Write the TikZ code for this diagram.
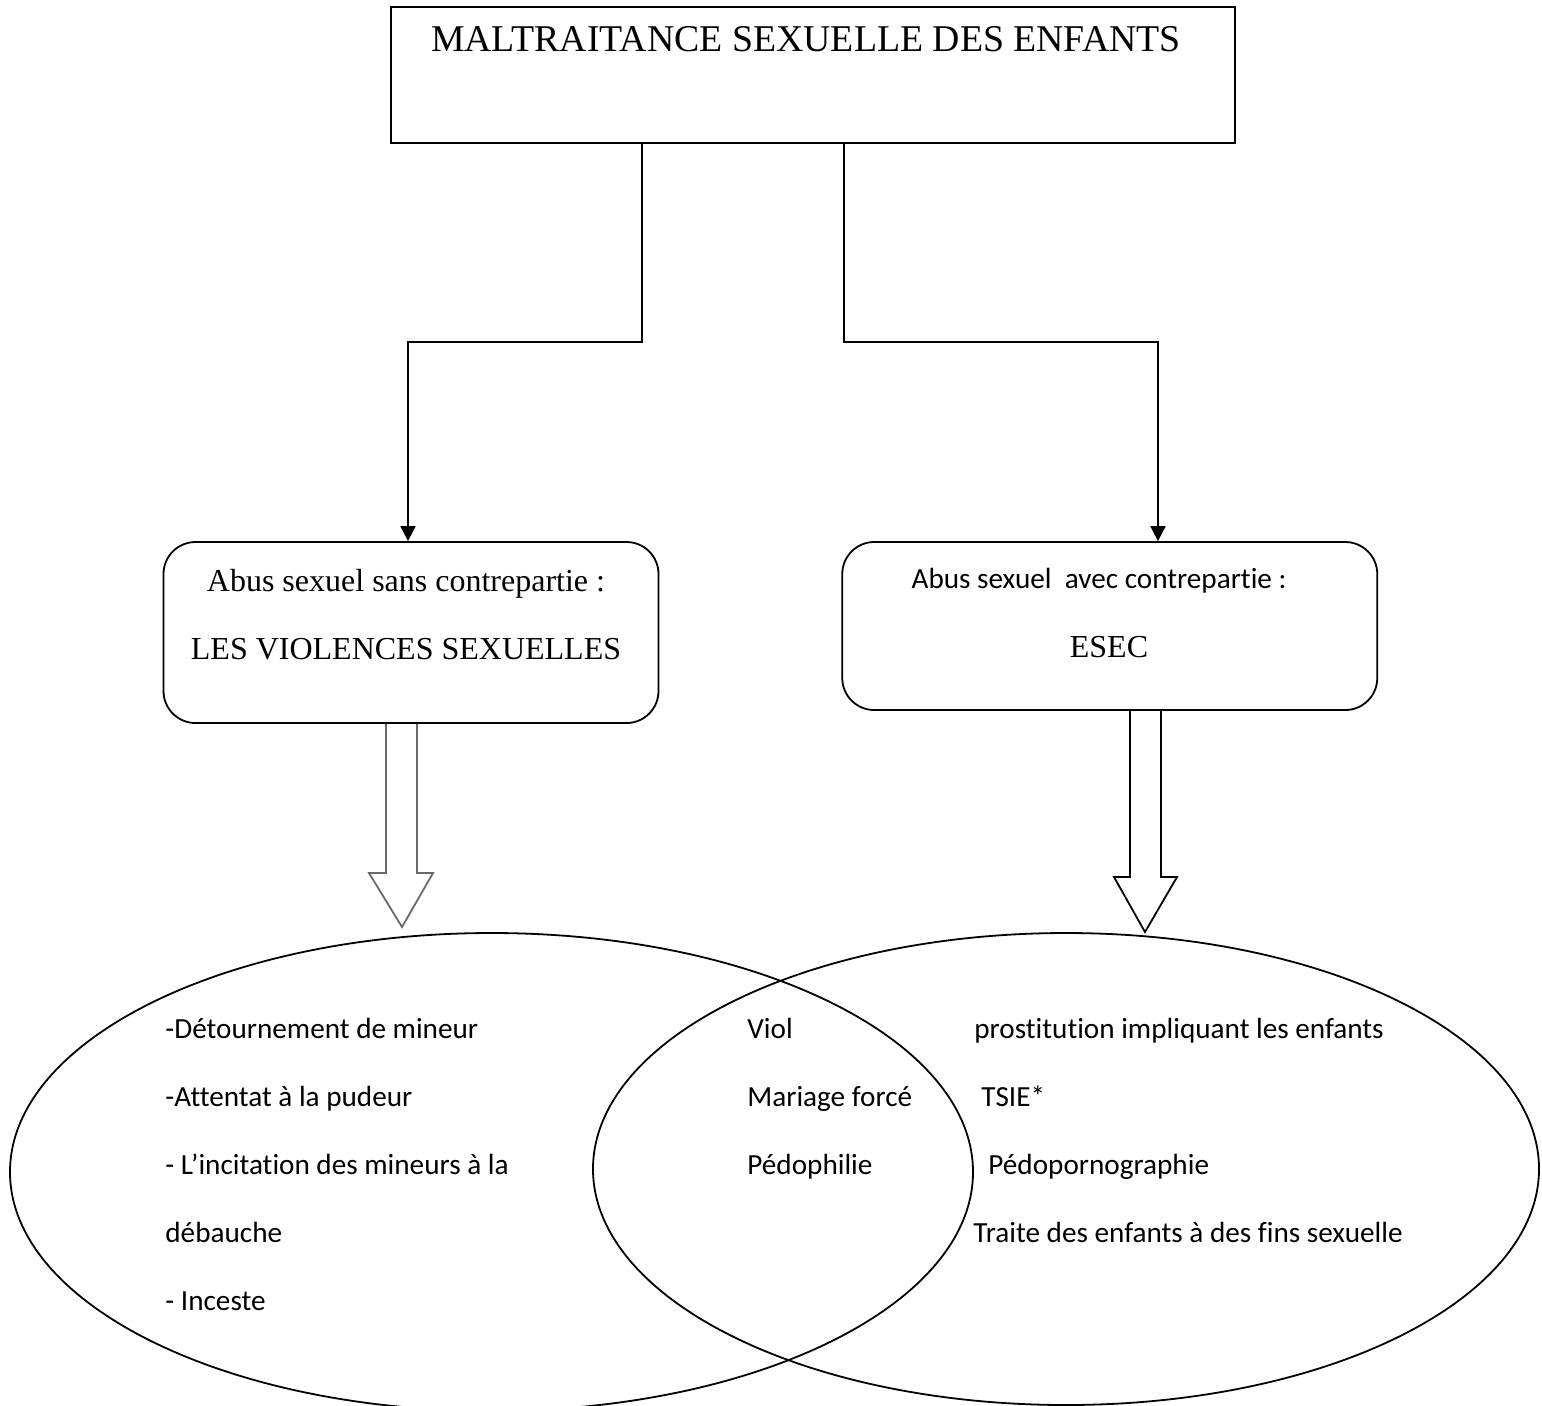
\documentclass[tikz,border=0pt]{standalone}
\usepackage{fontspec}
\setmainfont{Liberation Serif}
\newfontfamily\carlito[Ligatures=NoCommon]{Carlito}
\usetikzlibrary{arrows.meta,shapes.geometric,calc}
\definecolor{arrowgray}{RGB}{105,105,105}
\tikzset{
  titlebox/.style={draw, line width=1pt, rectangle, minimum width=422pt, minimum height=68pt, inner sep=0pt},
  roundbox/.style={draw, line width=0.9pt, rectangle, rounded corners=16pt, inner sep=0pt},
  vennset/.style={draw, line width=0.9pt, ellipse, inner sep=0pt},
  conn/.style={line width=0.9pt, -{Triangle[length=7.5pt,width=7.5pt]}},
  hollow/.style={line width=0.9pt, line join=miter},
  serifbig/.style={font=\fontsize{18.9pt}{21pt}\selectfont, inner sep=0pt},
  serifmid/.style={font=\fontsize{16pt}{19pt}\selectfont, inner sep=0pt},
  sanstxt/.style={font=\carlito\fontsize{14.6pt}{17pt}\selectfont, inner sep=0pt, anchor=base west},
  sanscentre/.style={font=\carlito\fontsize{14.6pt}{17pt}\selectfont, inner sep=0pt, anchor=base},
}
\begin{document}
\begin{tikzpicture}[x=0.5pt, y=-0.5pt]
\useasboundingbox (0,0) rectangle (1542,1405);
\clip (0,0) rectangle (1542,1405);

% title
\node[titlebox] (title) at (813,75) {};
\node[serifbig, anchor=base] (titletxt) at (806,51) {MALTRAITANCE SEXUELLE DES ENFANTS};

% category boxes
\node[roundbox, minimum width=247.5pt, minimum height=90.5pt] (lbox) at (411,632.5) {};
\node[serifmid, anchor=base] (ltxt1) at (406,591) {Abus sexuel sans contrepartie :};
\node[serifmid, anchor=base] (ltxt2) at (406,659) {LES VIOLENCES SEXUELLES};

\node[roundbox, minimum width=267.5pt, minimum height=84pt] (rbox) at (1109.75,626) {};
\node[sanscentre] (rtxt1) at (1099,588) {Abus sexuel\ \ avec contrepartie :};
\node[serifmid, anchor=base] (rtxt2) at (1109,657) {ESEC};

% connectors
\draw[conn] (title.south -| 642,0) -- (642,342) -| (lbox.north -| 408,0);
\draw[conn] (title.south -| 844,0) -- (844,342) -| (rbox.north -| 1158,0);

% hollow arrows
\draw[hollow, draw=arrowgray] (lbox.south -| 386,0) -- (386,873) -- (369,873) -- (402,927) -- (433,873) -- (417,873) -- (lbox.south -| 417,0);
\draw[hollow] (rbox.south -| 1130,0) -- (1130,877) -- (1114,877) -- (1145,932) -- (1177,877) -- (1161,877) -- (rbox.south -| 1161,0);

% Venn ellipses
\node[vennset, minimum width=481.5pt, minimum height=239pt] (lset) at (491.5,1172) {};
\node[vennset, minimum width=473pt, minimum height=236pt] (rset) at (1066,1169) {};

% left set items
\node[sanstxt] (l1) at (165,1038) {-Détournement de mineur};
\node[sanstxt] (l2) at (165,1106) {-Attentat à la pudeur};
\node[sanstxt] (l3) at (165,1174) {- L’incitation des mineurs à la};
\node[sanstxt] (l4) at (165,1242) {débauche};
\node[sanstxt] (l5) at (165,1310) {- Inceste};

% shared items
\node[sanstxt] (m1) at (747,1038) {Viol};
\node[sanstxt] (m2) at (747,1106) {Mariage forcé};
\node[sanstxt] (m3) at (747,1174) {Pédophilie};

% right set items
\node[sanstxt] (r1) at (974,1038) {prostitution impliquant les enfants};
\node[sanstxt] (r2) at (981,1106) {TSIE*};
\node[sanstxt] (r3) at (988,1174) {Pédopornographie};
\node[sanstxt] (r4) at (973,1242) {Traite des enfants à des fins sexuelle};
\end{tikzpicture}
\end{document}
